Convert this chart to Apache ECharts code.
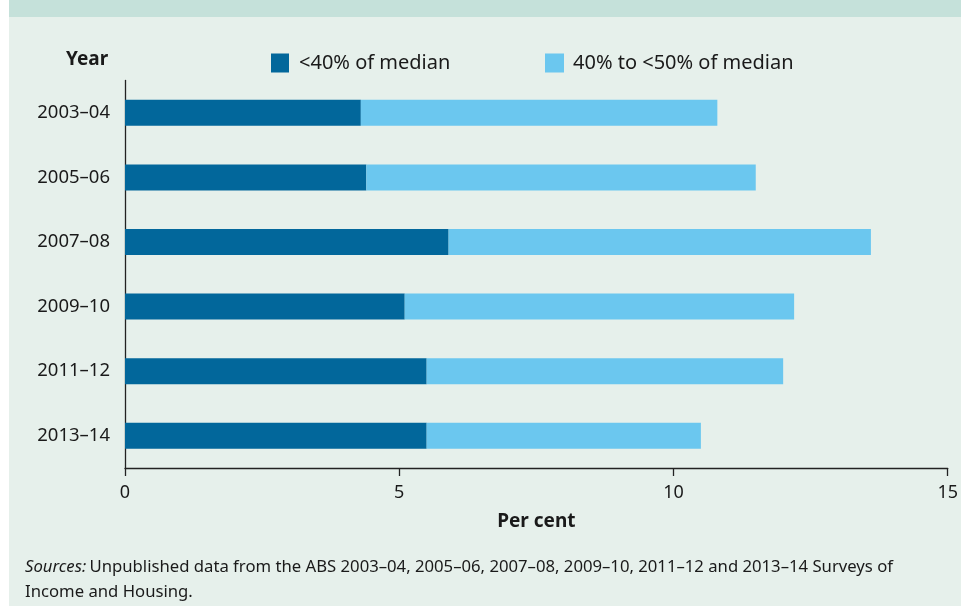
<!DOCTYPE html>
<html>
<head>
<meta charset="utf-8">
<script src="https://cdn.jsdelivr.net/npm/echarts@6/dist/echarts.min.js"></script>
<style>
  html, body { margin: 0; padding: 0; background: #ffffff; }
  #main { width: 961px; height: 606px; }
</style>
</head>
<body>
<div id="main"></div>
<script>
// data
const years = ['2003–04', '2005–06', '2007–08', '2009–10', '2011–12', '2013–14']
const below40 = [4.3, 4.4, 5.9, 5.1, 5.5, 5.5]
const from40to50 = [6.5, 7.1, 7.7, 7.1, 6.5, 5.0]
const xTicks = [0, 5, 10, 15]

const font = 'Noto Sans'
const myChart = echarts.init(document.getElementById('main'))
const option = {
  backgroundColor: '#e6f0eb',
  textStyle: { fontFamily: font },
  graphic: [
    // white strip on the left and the cut-off title band
    { type: 'rect', left: 0, top: 0, shape: { width: 9, height: 606 }, style: { fill: '#ffffff' }, silent: true },
    { type: 'rect', left: 9, top: 0, shape: { width: 952, height: 17 }, style: { fill: '#c5e1da' }, silent: true },
    {
      type: 'text', left: 66, top: 50,
      style: { text: 'Year', font: 'bold 19px "Noto Sans"', fill: '#1a1a1a' }
    },
    {
      type: 'text', left: 25, top: 555,
      style: {
        rich: {
          i: { fontStyle: 'italic', fontSize: 16.7, fontFamily: font, fill: '#1a1a1a' },
          n: { fontSize: 16.7, fontFamily: font, fill: '#1a1a1a', lineHeight: 25 }
        },
        text: '{i|Sources:} {n|Unpublished data from the ABS 2003–04, 2005–06, 2007–08, 2009–10, 2011–12 and 2013–14 Surveys of}\n{n|Income and Housing.}',
        lineHeight: 25
      }
    }
  ],
  legend: [
    {
      left: 266, top: 48,
      itemWidth: 18, itemHeight: 19,
      itemGap: 10,
      icon: 'rect',
      textStyle: { fontSize: 20, color: '#1a1a1a', fontFamily: font, padding: [0, 0, 0, 5] },
      data: ['<40% of median']
    },
    {
      left: 540, top: 48,
      itemWidth: 19, itemHeight: 19,
      icon: 'rect',
      textStyle: { fontSize: 20, color: '#1a1a1a', fontFamily: font, padding: [0, 0, 0, 4] },
      data: ['40% to <50% of median']
    }
  ],
  grid: {
    left: 125,
    right: 13,
    top: 80.5,
    bottom: 138
  },
  xAxis: {
    type: 'value',
    min: 0,
    max: 15,
    interval: 5,
    name: 'Per cent',
    nameLocation: 'middle',
    nameGap: 44,
    nameTextStyle: { fontWeight: 'bold', fontSize: 19, color: '#1a1a1a', fontFamily: font },
    axisLine: { show: true, lineStyle: { color: '#222', width: 1.3 } },
    axisTick: { show: true, length: 8, lineStyle: { color: '#222', width: 1.3 } },
    axisLabel: {
      fontSize: 18, color: '#1a1a1a', margin: 16,
      formatter: v => (xTicks.indexOf(v) >= 0 ? String(v) : '')
    },
    splitLine: { show: false }
  },
  yAxis: {
    type: 'category',
    inverse: true,
    data: years,
    axisLine: { show: true, lineStyle: { color: '#222', width: 1.3 } },
    axisTick: { show: false },
    axisLabel: { fontSize: 18.5, color: '#1a1a1a', margin: 15 }
  },
  series: [
    {
      name: '<40% of median',
      type: 'bar',
      stack: 'total',
      barWidth: 26,
      itemStyle: { color: '#02679b' },
      data: below40
    },
    {
      name: '40% to <50% of median',
      type: 'bar',
      stack: 'total',
      barWidth: 26,
      itemStyle: { color: '#6bc7ef' },
      data: from40to50
    }
  ]
}
option && myChart.setOption(option)
</script>
</body>
</html>
